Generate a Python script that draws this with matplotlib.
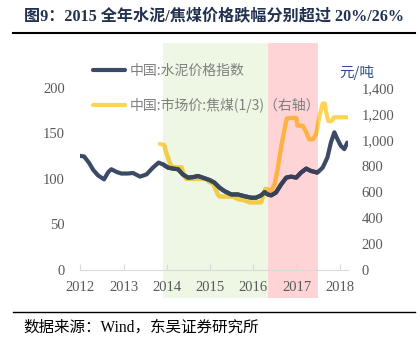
import matplotlib
matplotlib.use('Agg')

import matplotlib.pyplot as plt
from matplotlib.colors import to_rgb
from matplotlib.patches import Rectangle
from matplotlib.ticker import FuncFormatter


# 水泥价格指数 (左轴)
cement_t = [
    2012.00, 2012.09, 2012.20, 2012.30, 2012.41, 2012.55, 2012.65, 2012.72,
    2012.84, 2012.95, 2013.10, 2013.22, 2013.38, 2013.53, 2013.68, 2013.81,
    2013.91, 2014.03, 2014.14, 2014.26, 2014.37, 2014.49, 2014.60, 2014.72,
    2014.83, 2014.99, 2015.10, 2015.22, 2015.33, 2015.49, 2015.64, 2015.80,
    2015.95, 2016.06, 2016.18, 2016.26, 2016.33, 2016.41, 2016.52, 2016.64,
    2016.76, 2016.87, 2016.99, 2017.10, 2017.22, 2017.33, 2017.48, 2017.60,
    2017.71, 2017.79, 2017.87, 2017.94, 2018.02, 2018.10, 2018.17,
]
cement_v = [
    125.4, 124.7, 118.0, 110.0, 104.0, 99.6, 107.7, 110.7,
    107.7, 106.0, 106.0, 106.6, 102.6, 105.0, 112.5, 118.0,
    116.0, 112.5, 111.4, 110.7, 105.0, 101.5, 102.0, 103.3,
    101.5, 98.8, 96.0, 90.4, 86.7, 83.0, 83.0, 81.0,
    79.4, 79.4, 82.0, 85.6, 83.0, 82.0, 85.0, 94.0,
    101.5, 102.6, 101.5, 107.0, 111.4, 108.8, 107.0, 112.5,
    123.6, 140.0, 151.3, 143.9, 136.5, 132.8, 140.0,
]

# 焦煤市场价, 元/吨 (右轴)
coke_t = [
    2013.84, 2013.94, 2013.99, 2014.07, 2014.12, 2014.34, 2014.41, 2014.45,
    2014.91, 2014.99, 2015.06, 2015.18, 2015.22, 2015.53, 2015.64, 2015.80,
    2015.91, 2016.18, 2016.22, 2016.28, 2016.33, 2016.41, 2016.49, 2016.56,
    2016.64, 2016.72, 2016.77, 2016.87, 2016.99, 2017.02, 2017.14, 2017.22,
    2017.29, 2017.37, 2017.45, 2017.50, 2017.55, 2017.60, 2017.65, 2017.69,
    2017.73, 2017.81, 2017.86, 2018.17,
]
coke_v = [
    970, 960, 900, 825, 790, 790, 720, 700,
    700, 675, 670, 580, 565, 565, 545, 535,
    520, 520, 565, 625, 620, 605, 660, 775,
    945, 1085, 1165, 1170, 1170, 1110, 1110, 1060,
    1005, 1005, 1045, 1135, 1215, 1280, 1280, 1200,
    1145, 1145, 1175, 1175,
]

# 下跌区间 / 上涨区间
spans = [
    (2013.92, 2016.34, '#EEF7E4'),
    (2016.34, 2017.49, '#FFD4D6'),
]

years = [2012, 2013, 2014, 2015, 2016, 2017, 2018]

CEMENT_COLOR = '#3B4A66'
COKE_COLOR = '#FFD454'
GRAY = '#595959'
SERIF = ['Liberation Serif', 'Noto Sans CJK SC']
CJK = ['Noto Sans CJK SC', 'DejaVu Sans']


def tint(color, shade):
    # 线条穿过底色时按"正片叠底"混色
    return tuple(a * b for a, b in zip(to_rgb(color), to_rgb(shade)))


def draw_series(axes, t, v, color, label):
    line, = axes.plot(t, v, color=color, lw=3.0, label=label,
                      solid_joinstyle='round', solid_capstyle='round', zorder=3)
    for x0, x1, shade in spans:
        clip = Rectangle((x0, -1e4), x1 - x0, 2e4, transform=axes.transData)
        part, = axes.plot(t, v, color=tint(color, shade), lw=3.0,
                          solid_joinstyle='round', solid_capstyle='round', zorder=3)
        part.set_clip_path(clip)
    return line


fig = plt.figure(figsize=(4.2, 3.47), dpi=100, facecolor='white')
ax = fig.add_axes([0.191, 0.222, 0.637, 0.6555])
ax2 = ax.twinx()

# 左轴在上层, 底色和焦煤线放在右轴
ax.set_zorder(ax2.get_zorder() + 1)
ax.patch.set_visible(False)

for x0, x1, shade in spans:
    band = ax2.axvspan(x0, x1, ymin=-0.123, ymax=1.0, color=shade, lw=0, zorder=0)
    band.set_clip_on(False)

coke_line = draw_series(ax2, coke_t, coke_v, COKE_COLOR, '中国:市场价:焦煤(1/3)（右轴）')
cement_line = draw_series(ax, cement_t, cement_v, CEMENT_COLOR, '中国:水泥价格指数')

ax.set_xlim(2012, 2018.18)
ax.set_ylim(0, 250)
ax2.set_ylim(0, 1750)

ax.set_xticks(years)
ax.set_yticks([0, 50, 100, 150, 200])
ax2.set_yticks(range(0, 1401, 200))
ax2.yaxis.set_major_formatter(FuncFormatter(lambda v, _: f'{v:,.0f}'))

for a in (ax, ax2):
    for side in ('top', 'left', 'right', 'bottom'):
        a.spines[side].set_visible(False)
ax.spines['bottom'].set_visible(True)
ax.spines['bottom'].set_color('#D9D9D9')

ax.tick_params(axis='x', direction='in', length=4, color='#D9D9D9', pad=8)
ax.tick_params(axis='y', length=0, pad=11)
ax2.tick_params(axis='y', length=0, pad=10)

for label in ax.get_xticklabels() + ax.get_yticklabels() + ax2.get_yticklabels():
    label.set_fontfamily(SERIF)
    label.set_fontsize(10.5)
    label.set_color(GRAY)

ax.legend(
    handles=[cement_line, coke_line],
    loc='upper left',
    bbox_to_anchor=(86 / 420, 1 - 57 / 347),
    bbox_transform=fig.transFigure,
    frameon=False,
    borderpad=0,
    handlelength=2.3,
    handletextpad=0.35,
    labelspacing=1.45,
    prop={'family': CJK, 'size': 10},
    labelcolor='#7F7F7F',
)

fig.text(357 / 420, 1 - 72 / 347, '元/吨', family=CJK, fontsize=10.5,
         color='#2F4E8A', ha='center', va='center')

fig.text(24 / 420, 1 - 16 / 347, '图9：2015 全年水泥/焦煤价格跌幅分别超过 20%/26%',
         family=SERIF, fontsize=11.6, fontweight='bold', color='#22314F',
         ha='left', va='center')

fig.add_artist(plt.Line2D([13 / 420, 415 / 420], [1 - 33 / 347] * 2,
                          color='black', lw=1.5, transform=fig.transFigure))
fig.add_artist(plt.Line2D([13 / 420, 415 / 420], [1 - 312 / 347] * 2,
                          color='black', lw=1.0, transform=fig.transFigure))

fig.text(23 / 420, 1 - 328 / 347, '数据来源：Wind，东吴证券研究所',
         family=SERIF, fontsize=11.2, color='black', ha='left', va='center')

fig.savefig('out.png', dpi=100)
